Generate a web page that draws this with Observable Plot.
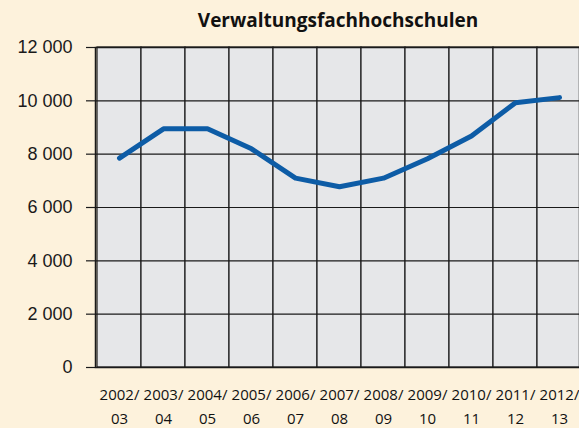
<!DOCTYPE html>
<html>
<head>
<meta charset="utf-8">
<script src="https://cdn.jsdelivr.net/npm/d3@7"></script>
<script src="https://cdn.jsdelivr.net/npm/@observablehq/plot@0.6"></script>
<style>
  html, body { margin: 0; padding: 0; background: #fdf2dc; }
  #wrap { width: 579px; height: 428px; overflow: hidden; background: #fdf2dc; position: relative; }
  #title { position: absolute; left: 0; top: 0; width: 579px; height: 40px; box-sizing: border-box;
           padding-left: 97px; text-align: center; font-family: "Open Sans", sans-serif; font-weight: 700;
           font-size: 19px; line-height: 40px; color: #111; }
  #chart { position: absolute; left: 0; top: 40px; }
</style>
</head>
<body>
<div id="wrap">
  <div id="title">Verwaltungsfachhochschulen</div>
  <div id="chart"></div>
</div>
<script>
const years = ["2002/03","2003/04","2004/05","2005/06","2006/07","2007/08","2008/09","2009/10","2010/11","2011/12","2012/13"];
const values = [7850, 8950, 8950, 8200, 7100, 6780, 7100, 7830, 8680, 9930, 10120];
const yTicks = [0, 2000, 4000, 6000, 8000, 10000, 12000];

const data = years.map((y, i) => ({year: y, value: values[i]}));
const fmt = d3.formatLocale({thousands: " ", grouping: [3], decimal: ","}).format(",");
const xLabel = y => y.replace("/", "/\n");

const chart = Plot.plot({
  width: 579,
  height: 388,
  marginTop: 7,
  marginBottom: 61,
  marginLeft: 95,
  marginRight: 0,
  style: {background: "transparent", overflow: "visible"},
  x: {type: "band", domain: years, range: [95, 582], padding: 0, axis: null, label: null},
  y: {domain: [0, 12000], ticks: yTicks, axis: null, label: null},
  marks: [
    Plot.barY(years, {x: d => d, y1: 0, y2: 12000, fill: "#e6e7e9", stroke: "#1a1a1a", strokeWidth: 1.2}),
    Plot.ruleY(yTicks, {stroke: "#1a1a1a", strokeWidth: 1.2}),
    Plot.axisY({ticks: yTicks, tickSize: 9, tickPadding: 14, tickFormat: fmt, fontSize: 18, label: null,
      fontFamily: "Liberation Sans, Arial, sans-serif", stroke: "#1a1a1a", fill: "#1a1a1a", strokeWidth: 1.2}),
    Plot.frame({stroke: "#1a1a1a", strokeWidth: 1.5}),
    Plot.line(data, {x: "year", y: "value", stroke: "#0d5ca6", strokeWidth: 5, strokeLinecap: "round"}),
    Plot.text(years, {x: d => d, text: xLabel, frameAnchor: "bottom", lineAnchor: "top", dy: 15,
      fontSize: 15, lineHeight: 1.6, fontFamily: "Open Sans, sans-serif", fill: "#111"})
  ]
});
document.getElementById("chart").appendChild(chart);
</script>
</body>
</html>
